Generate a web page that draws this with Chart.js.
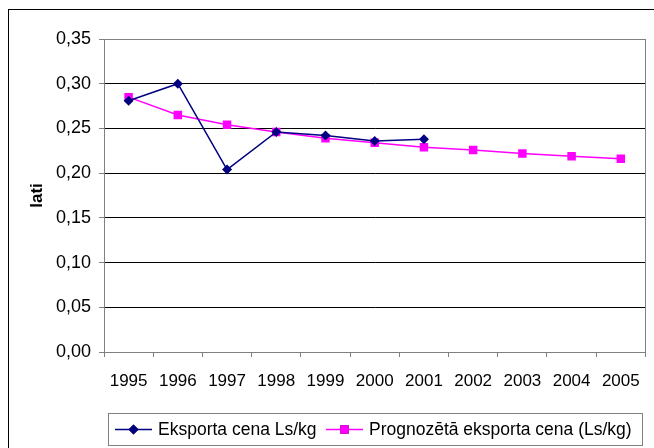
<!DOCTYPE html>
<html>
<head>
<meta charset="utf-8">
<script src="https://cdn.jsdelivr.net/npm/chart.js@4"></script>
<style>
  html, body { margin: 0; padding: 0; background: #fff; }
  canvas { display: block; }
</style>
</head>
<body>
<canvas id="cena" width="654" height="448"></canvas>
<script>
'use strict'

const gadi = ['1995','1996','1997','1998','1999','2000','2001','2002','2003','2004','2005']
const eksportaCena = [0.281, 0.300, 0.204, 0.246, 0.242, 0.236, 0.238]
const prognoze = [0.285, 0.265, 0.254, 0.246, 0.239, 0.234, 0.229, 0.226, 0.222, 0.219, 0.216]
const asisY = { min: 0, max: 0.35, solis: 0.05 }

const fonts = '"Liberation Sans", Arial, sans-serif'
const pelekais = '#808080'

// rāmis ap visu diagrammu un ap zīmēšanas laukumu, ass nosaukums un leģenda
const zimejums = {
  id: 'zimejums',
  beforeDatasetsDraw(chart) {
    const ctx = chart.ctx
    const a = chart.chartArea
    ctx.save()
    ctx.strokeStyle = pelekais
    ctx.lineWidth = 1
    ctx.strokeRect(Math.round(a.left) + 0.5, Math.round(a.top) + 0.5,
      Math.round(a.right - a.left), Math.round(a.bottom - a.top))
    ctx.restore()
  },
  afterDraw(chart) {
    const ctx = chart.ctx
    const a = chart.chartArea
    ctx.save()
    // ārējais rāmis
    ctx.strokeStyle = '#000'
    ctx.lineWidth = 1
    ctx.strokeRect(8.5, 9.5, 700, 500)

    // ass nosaukums
    ctx.fillStyle = '#000'
    ctx.font = 'bold 17px ' + fonts
    ctx.textAlign = 'center'
    ctx.textBaseline = 'middle'
    ctx.translate(37, (a.top + a.bottom) / 2)
    ctx.rotate(-Math.PI / 2)
    ctx.fillText('lati', 0, 0)
    ctx.restore()

    // leģenda
    ctx.save()
    ctx.strokeStyle = pelekais
    ctx.strokeRect(108.5, 413.5, 534, 32)
    const yL = 429.5
    const vienumi = [
      { x: 115, ds: chart.data.datasets[0] },
      { x: 326, ds: chart.data.datasets[1] }
    ]
    ctx.font = '17.5px ' + fonts
    ctx.textBaseline = 'middle'
    ctx.textAlign = 'left'
    vienumi.forEach(v => {
      ctx.strokeStyle = v.ds.borderColor
      ctx.lineWidth = 1.5
      ctx.beginPath()
      ctx.moveTo(v.x, yL)
      ctx.lineTo(v.x + 37, yL)
      ctx.stroke()
      Chart.helpers.drawPoint(ctx, {
        pointStyle: v.ds.pointStyle,
        radius: v.ds.pointRadius,
        borderWidth: 0,
        rotation: 0
      }, v.x + 18.5, yL)
      ctx.fillStyle = v.ds.borderColor
      ctx.fill()
      ctx.fillStyle = '#000'
      ctx.fillText(v.ds.label, v.x + 43, yL + 1)
    })
    ctx.restore()
  }
}

const data = {
  labels: gadi,
  datasets: [{
    label: 'Eksporta cena Ls/kg',
    data: eksportaCena,
    borderColor: '#000080',
    backgroundColor: '#000080',
    borderWidth: 1.5,
    pointStyle: 'rectRot',
    pointRadius: 5,
    pointBorderWidth: 0,
    tension: 0
  }, {
    label: 'Prognozētā eksporta cena (Ls/kg)',
    data: prognoze,
    borderColor: '#ff00ff',
    backgroundColor: '#ff00ff',
    borderWidth: 1.5,
    pointStyle: 'rect',
    pointRadius: 6,
    pointBorderWidth: 0,
    tension: 0
  }]
}

const config = {
  type: 'line',
  data: data,
  options: {
    responsive: false,
    animation: false,
    layout: { padding: { top: 39, right: 6, left: 0, bottom: 0 } },
    plugins: {
      legend: { display: false },
      tooltip: { enabled: false }
    },
    scales: {
      x: {
        offset: true,
        grid: {
          offset: true,
          drawOnChartArea: false,
          tickLength: 5,
          tickColor: pelekais
        },
        border: { color: pelekais },
        ticks: {
          color: '#000',
          padding: 14,
          maxRotation: 0,
          autoSkip: false,
          font: { family: fonts, size: 17 }
        },
        afterFit(scale) { scale.height = 96 }
      },
      y: {
        min: asisY.min,
        max: asisY.max,
        grid: {
          color: '#000',
          tickLength: 5,
          tickColor: pelekais
        },
        border: { color: pelekais },
        ticks: {
          stepSize: asisY.solis,
          color: '#000',
          padding: 8,
          font: { family: fonts, size: 18 },
          callback: v => v.toFixed(2).replace('.', ',')
        },
        afterFit(scale) { scale.width = 104 }
      }
    }
  },
  plugins: [zimejums]
}

let diagramma = new Chart(document.querySelector('#cena'), config)
</script>
</body>
</html>
